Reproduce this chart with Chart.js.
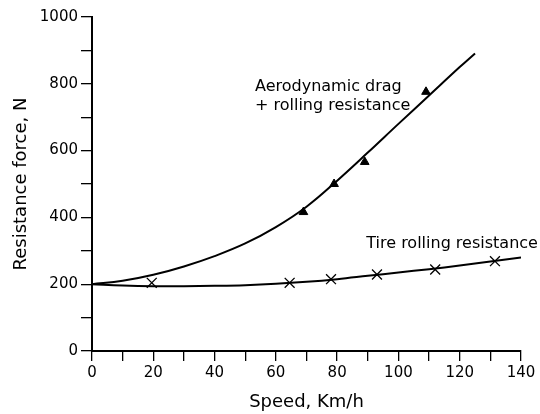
<!DOCTYPE html>
<html>
<head>
<meta charset="utf-8">
<script src="https://cdn.jsdelivr.net/npm/chart.js@4.4.0/dist/chart.umd.min.js"></script>
<style>
  html, body { margin: 0; padding: 0; background: #fff; }
  #wrap { width: 540px; height: 414px; }
</style>
</head>
<body>
<div id="wrap"><canvas id="resistanceChart" width="540" height="414"></canvas></div>
<script>
// Fitted curves
const dragSpeeds = [0, 10, 20, 30, 40, 50, 60, 70, 80, 90, 100, 110, 120, 125];
const dragForce = [200, 210, 228, 253, 284, 322, 371, 432, 510, 594, 680, 765, 850, 891];

const tireSpeeds = [0, 10, 20, 30, 40, 50, 60, 70, 80, 90, 100, 110, 120, 130, 140];
const tireForce = [200, 196, 194, 194, 195, 197, 201, 207, 215, 225, 235, 245, 256, 268, 280];

// Measured points
const dragPointSpeeds = [69, 79, 89, 109];
const dragPointForce = [416, 500, 566, 776];

const tirePointSpeeds = [19.5, 64.5, 78, 93, 112, 131.5];
const tirePointForce = [204, 204, 215, 229, 244, 269];

const xMajorTicks = [0, 20, 40, 60, 80, 100, 120, 140];
const yMajorTicks = [0, 200, 400, 600, 800, 1000];

// Curve labels, anchored in data units
const curveLabels = [
    { text: 'Aerodynamic drag', x: 53.2, y: 792 },
    { text: '+ rolling resistance', x: 53.2, y: 733 },
    { text: 'Tire rolling resistance', x: 89.5, y: 320 }
];

const toPoints = (xs, ys) => xs.map((x, i) => ({ x: x, y: ys[i] }));

const labelPlugin = {
    id: 'curveLabels',
    afterDatasetsDraw(chart) {
        const ctx = chart.ctx;
        const xs = chart.scales.x;
        const ys = chart.scales.y;
        ctx.save();
        ctx.font = '16px "DejaVu Sans", Verdana, sans-serif';
        ctx.fillStyle = '#000';
        ctx.textAlign = 'left';
        ctx.textBaseline = 'middle';
        curveLabels.forEach(l => {
            ctx.fillText(l.text, xs.getPixelForValue(l.x), ys.getPixelForValue(l.y));
        });
        ctx.restore();
    }
};

const ctx = document.getElementById('resistanceChart').getContext('2d');
new Chart(ctx, {
    type: 'line',
    data: {
        datasets: [{
            label: 'Aerodynamic drag + rolling resistance',
            data: toPoints(dragSpeeds, dragForce),
            borderColor: '#000',
            borderWidth: 2,
            pointRadius: 0,
            tension: 0.4
        }, {
            label: 'Tire rolling resistance',
            data: toPoints(tireSpeeds, tireForce),
            borderColor: '#000',
            borderWidth: 2,
            pointRadius: 0,
            tension: 0.4
        }, {
            label: 'Drag measured',
            data: toPoints(dragPointSpeeds, dragPointForce),
            showLine: false,
            pointStyle: 'triangle',
            pointRadius: 5,
            backgroundColor: '#000',
            borderColor: '#000',
            borderWidth: 1
        }, {
            label: 'Tire measured',
            data: toPoints(tirePointSpeeds, tirePointForce),
            showLine: false,
            pointStyle: 'crossRot',
            pointRadius: 7,
            borderColor: '#000',
            borderWidth: 1.3
        }]
    },
    options: {
        responsive: false,
        animation: false,
        layout: {
            padding: { top: 17, right: 19, bottom: 0, left: 0 }
        },
        plugins: {
            legend: { display: false },
            tooltip: { enabled: false }
        },
        scales: {
            x: {
                type: 'linear',
                min: 0,
                max: 140,
                afterFit: scale => { scale.height = 63; },
                border: { color: '#000', width: 2 },
                grid: { drawOnChartArea: false, drawTicks: true, tickLength: 10, color: '#000', lineWidth: 1.3 },
                ticks: {
                    stepSize: 10,
                    color: '#000',
                    padding: 3,
                    maxRotation: 0,
                    autoSkip: false,
                    font: { family: '"DejaVu Sans", Verdana, sans-serif', size: 15 },
                    callback: v => xMajorTicks.includes(v) ? String(v) : ''
                },
                title: {
                    display: true,
                    text: 'Speed, Km/h',
                    color: '#000',
                    padding: { top: 4, bottom: 1 },
                    font: { family: '"DejaVu Sans", Verdana, sans-serif', size: 18 }
                }
            },
            y: {
                min: 0,
                max: 1000,
                afterFit: scale => { scale.width = 92; },
                border: { color: '#000', width: 2 },
                grid: { drawOnChartArea: false, drawTicks: true, tickLength: 11, color: '#000', lineWidth: 1.3 },
                ticks: {
                    stepSize: 100,
                    color: '#000',
                    padding: 3,
                    autoSkip: false,
                    font: { family: '"DejaVu Sans", Verdana, sans-serif', size: 15 },
                    callback: v => yMajorTicks.includes(v) ? String(v) : ''
                },
                title: {
                    display: true,
                    text: 'Resistance force, N',
                    color: '#000',
                    padding: { top: 11, bottom: 0 },
                    font: { family: '"DejaVu Sans", Verdana, sans-serif', size: 18 }
                }
            }
        }
    },
    plugins: [labelPlugin]
});
</script>
</body>
</html>
